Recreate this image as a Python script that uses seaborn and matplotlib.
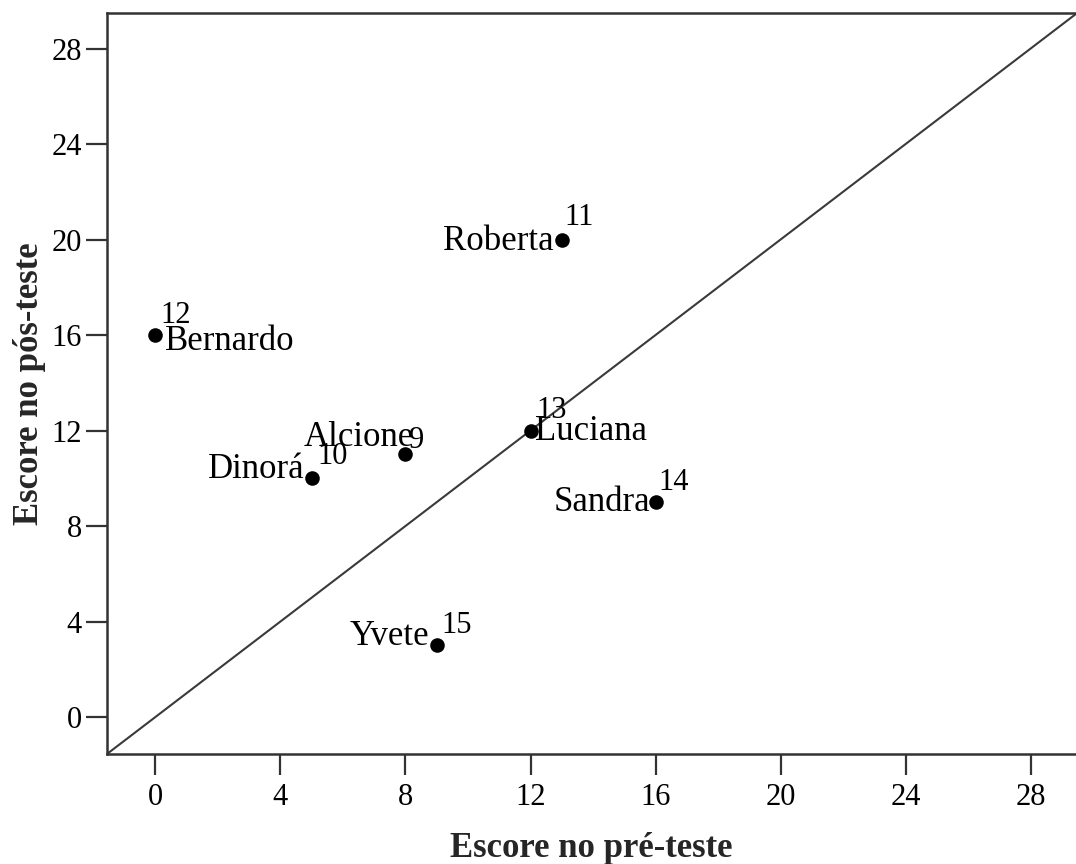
import matplotlib
matplotlib.use("Agg")
import matplotlib.pyplot as plt
import seaborn as sns
import pandas as pd

# Pre-test and post-test scores for each participant
names = ["Alcione", "Dinorá", "Roberta", "Bernardo", "Luciana", "Sandra", "Yvete"]
case_ids = ["9", "10", "11", "12", "13", "14", "15"]
pre_scores = [8, 5, 13, 0, 12, 16, 9]
post_scores = [11, 10, 20, 16, 12, 9, 3]
ticks = [0, 4, 8, 12, 16, 20, 24, 28]

# label placement (pixel offsets and alignment) for each name and case id
name_offsets = [(8, 17, "right"), (-7, 9, "right"), (-8, -2, "right"), (10, -6, "left"),
                (4, -1, "left"), (-5, 0, "right"), (-7, 9, "right")]
id_offsets = [(4, 14), (6, 22), (3, 22), (5, 20), (6, 20), (3, 20), (5, 20)]

df = pd.DataFrame({"pre": pre_scores, "post": post_scores, "name": names, "case": case_ids})

sns.set_style("ticks")
plt.rcParams["font.family"] = ["Liberation Serif", "DejaVu Serif"]

fig = plt.figure(figsize=(10.76, 8.64), dpi=100)
ax = fig.add_axes([0.0994, 0.1273, 0.9006, 0.858])

ax.axline((0, 0), slope=1, color="#3a3a3a", lw=1.5, zorder=1)
sns.scatterplot(data=df, x="pre", y="post", ax=ax, color="black", s=110,
                edgecolor="black", linewidth=0, zorder=3, legend=False)

for (x, y, nm, cid, (ndx, ndy, ha), (idx, idy)) in zip(
        pre_scores, post_scores, names, case_ids, name_offsets, id_offsets):
    ax.annotate(nm, (x, y), xytext=(ndx, ndy), textcoords="offset pixels",
                ha=ha, va="center", fontsize=25, color="black", zorder=4)
    ax.annotate(cid, (x, y), xytext=(idx, idy), textcoords="offset pixels",
                ha="left", va="center", fontsize=22, color="black", zorder=4)

ax.set_xlim(-1.55, 29.45)
ax.set_ylim(-1.55, 29.5)
ax.set_xticks(ticks)
ax.set_yticks(ticks)
ax.tick_params(axis="both", direction="out", length=15, width=1.6, color="#333333",
               labelsize=22, labelcolor="black")
ax.tick_params(axis="x", pad=6)
ax.tick_params(axis="y", pad=3)

for side in ["left", "bottom", "top"]:
    ax.spines[side].set_color("#333333")
    ax.spines[side].set_linewidth(1.8)
ax.spines["right"].set_visible(False)

ax.set_xlabel("Escore no pré-teste", fontsize=25, fontweight="bold", labelpad=14)
ax.set_ylabel("Escore no pós-teste", fontsize=25, fontweight="bold", labelpad=4)

fig.savefig("out.png", dpi=100, facecolor="white")
